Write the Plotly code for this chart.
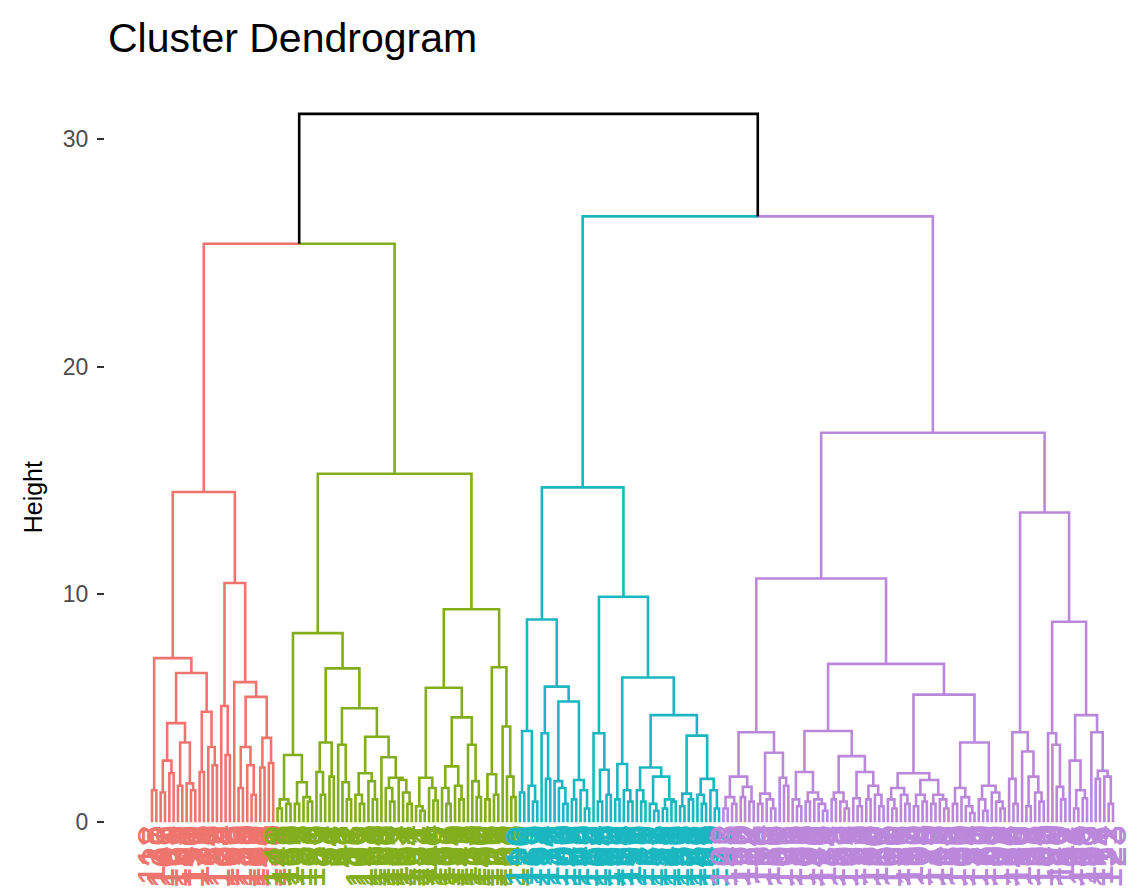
import plotly.graph_objects as go

L = 0  # a leaf

# ---- merge structure: [height, left, right] ----
red_tree = [14.5,
    [7.2,
        [1.4, L, L],
        [6.55,
            [4.35,
                [2.7, [1.3, L, L], [2.15, L, L]],
                [3.5, [1.6, L, L], [1.7, L, [1.4, L, L]]]],
            [4.85,
                [2.2, L, L],
                [3.3, L, [2.5, L, L]]]]],
    [10.5,
        [5.1, L, [2.95, L, L]],
        [6.15, L,
            [5.5,
                [3.3, [1.5, L, L], [2.5, L, [1.2, L, L]]],
                [3.7, [2.4, L, L], [2.6, L, L]]]]]]

green_tree = [15.3,
    [8.3,
        [2.95,
            [1.0, [0.6, L, L], [0.8, L, L]],
            [1.75, [0.8, L, L], [1.1, L, [0.9, L, L]]]],
        [6.75,
            [3.5, [2.2, L, [1.2, L, L]], [2.0, L, L]],
            [5.0,
                [3.4, L, [1.75, L, [1.0, L, L]]],
                [3.75,
                    [2.15, [1.2, L, [0.8, L, L]], [1.8, L, [1.0, L, L]]],
                    [2.85, L, [1.95, [1.5, L, [0.9, L, L]],
                                     [1.85, L, [1.3, L, [0.8, L, L]]]]]]]]],
    [9.35,
        [5.9,
            [1.95, [0.7, L, [0.5, L, L]], [1.5, L, [0.95, L, L]]],
            [4.6,
                [2.45, [1.5, L, [0.8, L, L]], [1.6, L, [1.0, L, L]]],
                [3.4, L, [1.8, L, [1.1, L, L]]]]],
        [6.8,
            [2.1, [1.0, L, L], [1.2, L, L]],
            [4.2, L, [2.0, L, [1.1, L, L]]]]]]

cyan_tree = [14.7,
    [8.9,
        [4.0, [1.3, L, L], [1.6, L, [0.9, L, L]]],
        [5.95,
            [3.9, L, [1.9, L, L]],
            [5.3,
                [1.8, L, [1.5, L, [0.8, L, L]]],
                [1.85, [1.0, L, L], [1.4, L, [0.6, L, L]]]]]],
    [9.9,
        [3.9, L, [2.3, [0.9, L, L], [1.2, L, L]]],
        [6.35,
            [2.55, [1.0, L, L], [1.4, L, [0.9, L, L]]],
            [4.7,
                [2.4, [1.4, L, [0.9, L, L]],
                      [2.0, [0.8, L, [0.5, L, L]], [1.0, [0.6, L, L], [0.9, L, L]]]],
                [3.8, [1.25, [0.7, L, L], [1.0, L, L]],
                      [1.9, [1.2, L, [0.8, L, L]], [1.4, L, [0.6, L, L]]]]]]]]

purple_tree = [17.1,
    [10.7,
        [3.95,
            [2.0, [1.1, [0.6, L, L], [0.8, L, L]], [1.55, [1.1, L, L], [0.9, L, L]]],
            [3.05, [1.25, [0.8, L, L], [1.0, L, [0.6, L, L]]], [1.95, L, [1.6, L, L]]]],
        [6.95,
            [4.0,
                [2.2, [1.0, L, [0.7, L, L]],
                      [1.3, [0.9, L, L], [1.0, L, [0.8, L, [0.5, L, L]]]]],
                [2.9, [1.3, [1.0, L, L], [0.9, L, [0.6, L, L]]],
                      [2.2, [1.05, L, [0.7, L, L]], [1.6, [1.0, L, L], [1.2, L, [0.7, L, L]]]]]],
            [5.6,
                [2.15, [1.5, [1.0, L, [0.6, L, L]], [1.2, L, [0.8, L, L]]],
                       [1.85, [1.2, [0.7, L, L], [0.9, L, L]],
                              [1.2, [0.8, L, L], [1.0, L, [0.6, L, L]]]]],
                [3.5, [1.5, [0.8, L, L], [1.1, L, [0.7, L, [0.4, L, L]]]],
                      [1.6, [1.0, L, [0.5, L, L]], [1.3, L, [0.9, L, [0.6, L, L]]]]]]]],
    [13.6,
        [3.95, [1.9, L, [0.8, L, L]], [3.1, L, [2.0, [0.7, L, L], [1.3, L, [0.9, L, L]]]]],
        [8.8,
            [3.9, L, [3.4, L, [1.55, L, [1.0, L, L]]]],
            [4.7,
                [2.7, L, [1.4, [0.6, L, L], [1.05, L, L]]],
                [3.95, L, [2.25, [1.9, L, L], [2.0, L, [0.8, L, L]]]]]]]]

height_red_green = 25.4
height_cyan_purple = 26.6
height_root = 31.1

cluster_colors = ["#EE756E", "#82AD1C", "#1BB7C0", "#BA87DA"]

red_labels = [118, 27, 142, 105, 9, 163, 131, 88, 47, 150, 112, 36, 71, 14, 59,
              183, 124, 102, 66, 5, 139, 177, 120, 196, 108, 44, 155, 133, 170]
green_labels = [148, 21, 117, 160, 99, 135, 187, 3, 126, 52, 79, 31, 94, 11, 68,
                41, 57, 83, 16, 101, 143, 122, 174, 109, 158, 130, 191, 115, 167,
                137, 104, 152, 181, 127, 111, 144, 199, 119, 162, 106, 134, 171,
                149, 113, 185, 128, 156, 140, 103, 176, 121, 165, 8, 62, 145, 193]
cyan_labels = [110, 25, 136, 61, 159, 4, 114, 72, 172, 33, 100, 147, 85, 188, 48,
               123, 18, 154, 107, 64, 180, 138, 92, 164, 39, 116, 195, 1, 129, 75,
               151, 173, 55, 125, 141, 29, 190, 153, 82, 178, 132, 43, 166, 146,
               97, 197, 12]
purple_labels = [103, 45, 7, 168, 90, 112, 34, 63, 184, 15, 119, 78, 50, 101, 26,
                 157, 96, 2, 108, 69, 192, 40, 13, 115, 84, 175, 58, 22, 106, 73,
                 123, 93, 37, 186, 6, 110, 67, 53, 161, 30, 198, 87, 19, 117, 60,
                 104, 76, 10, 179, 46, 113, 95, 32, 189, 80, 100, 24, 56, 121, 70,
                 169, 38, 91, 109, 17, 194, 65, 49, 116, 89, 182, 28, 74, 105, 42,
                 120, 98, 20, 111, 81, 102, 54, 86, 118, 35, 107, 77, 114, 51, 122,
                 23]

y_ticks = [0, 10, 20, 30]

# ---- layout of the tree ----
segments = {c: ([], []) for c in cluster_colors + ["black"]}
leaves = []  # (x, label, color)


def add(color, xs, ys):
    segments[color][0].extend(xs + [None])
    segments[color][1].extend(ys + [None])


def place(node, color, labels, pos):
    if not isinstance(node, list):
        x = len(leaves) + 1
        leaves.append((x, labels[pos[0]], color))
        pos[0] += 1
        return x, 0.0
    h, a, b = node
    xa, ha = place(a, color, labels, pos)
    xb, hb = place(b, color, labels, pos)
    add(color, [xa, xa, xb, xb], [ha, h, h, hb])
    return (xa + xb) / 2.0, h


trees = [red_tree, green_tree, cyan_tree, purple_tree]
label_sets = [red_labels, green_labels, cyan_labels, purple_labels]
tops = []
for t, c, lab in zip(trees, cluster_colors, label_sets):
    tops.append(place(t, c, lab, [0]))


def join(left, right, cl, cr, h):
    (xl, hl), (xr, hr) = left, right
    xm = (xl + xr) / 2.0
    add(cl, [xl, xl, xm], [hl, h, h])
    add(cr, [xm, xr, xr], [h, h, hr])
    return xm, h


node_a = join(tops[0], tops[1], cluster_colors[0], cluster_colors[1], height_red_green)
node_b = join(tops[2], tops[3], cluster_colors[2], cluster_colors[3], height_cyan_purple)
add("black", [node_a[0], node_a[0], node_b[0], node_b[0]],
    [node_a[1], height_root, height_root, node_b[1]])

fig = go.Figure()
for c, (xs, ys) in segments.items():
    fig.add_trace(go.Scatter(x=xs, y=ys, mode="lines",
                             line=dict(color=c, width=2.6),
                             hoverinfo="skip", showlegend=False))

annotations = []
for x, lab, c in leaves:
    annotations.append(dict(x=x, y=-0.05, xref="x", yref="y", text=str(lab),
                            showarrow=False, textangle=-90, xanchor="center",
                            yanchor="top", font=dict(family="Liberation Sans, Arial",
                                                     size=38, color=c)))
annotations.append(dict(x=-0.0698, y=0.494, xref="paper", yref="paper", text="Height",
                        showarrow=False, textangle=-90, xanchor="center", yanchor="middle",
                        font=dict(family="Liberation Sans, Arial", size=25, color="#000000")))

n = len(leaves)
step = 961.0 / (n - 1)
fig.update_layout(
    width=1146, height=892,
    margin=dict(l=105, r=10, t=95, b=2),
    paper_bgcolor="white", plot_bgcolor="white",
    title=dict(text="Cluster Dendrogram", xref="container", yref="container",
               x=108 / 1146, xanchor="left", y=1 - 37.6 / 892, yanchor="middle",
               font=dict(family="Liberation Sans, Arial", size=41, color="#000000")),
    xaxis=dict(visible=False, range=[1 - 47 / step, n + 23 / step]),
    yaxis=dict(range=[-2.98, 31.93], tickvals=y_ticks, ticks="outside", ticklen=7,
               tickwidth=1.6, tickcolor="#333333", showgrid=False, zeroline=False,
               showline=False, ticklabelstandoff=4,
               tickfont=dict(family="Liberation Sans, Arial", size=23, color="#4D4D4D")),
    annotations=annotations,
)

fig.write_html("out.html", config={"displayModeBar": False},
               post_script="document.body.style.margin='0px';")
